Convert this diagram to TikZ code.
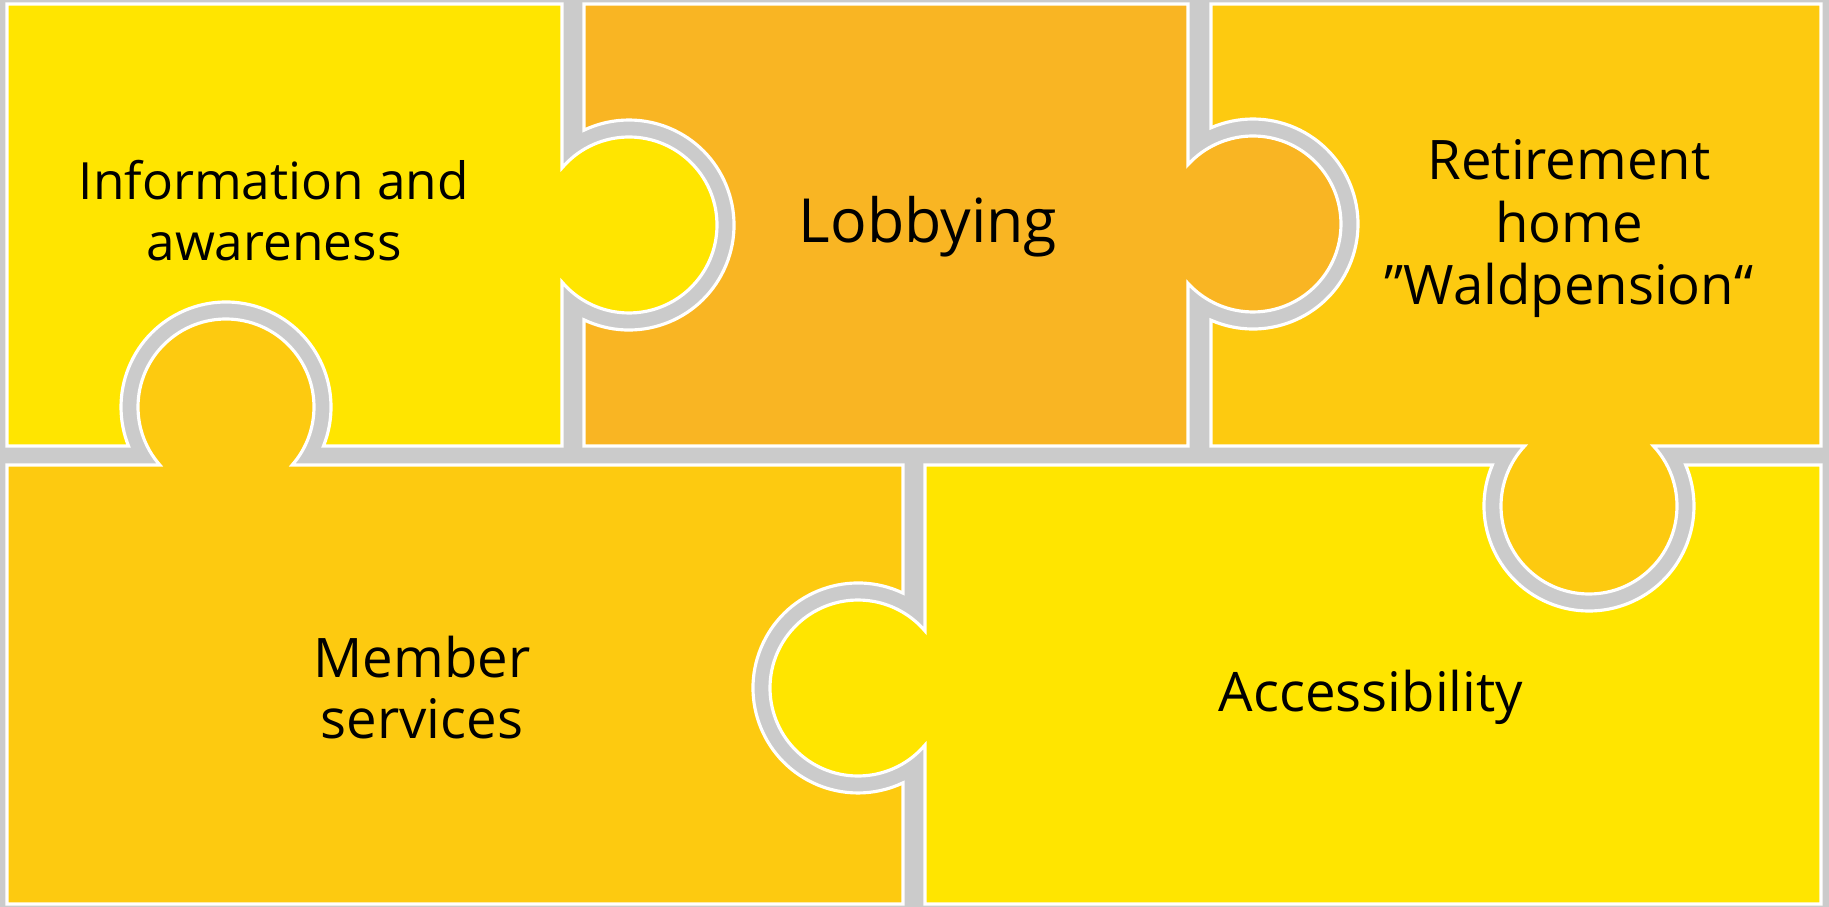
\documentclass[tikz,border=0pt]{standalone}
\usepackage{fontspec}
\setmainfont{Open Sans}
\definecolor{PuzYellow}{RGB}{255, 229, 0}
\definecolor{PuzOrange}{RGB}{249, 181, 35}
\definecolor{PuzGold}{RGB}{253, 202, 16}
\definecolor{GapGrey}{RGB}{203, 203, 203}
\usepackage{tikz}
\usetikzlibrary{positioning}

\begin{document}
\begin{tikzpicture}[x=0.01cm, y=-0.01cm,
    piece/.style={draw=white, line width=0.9pt, line join=miter},
    label/.style={font=\fontsize{15.5}{17.9}\selectfont, align=center, inner sep=0pt, anchor=base}]
                \useasboundingbox (0,0) rectangle (1829,907);
                \fill[GapGrey] (0,0) rectangle (1829,907);

                % Top row
                \draw[piece, fill=PuzYellow] (7,4) -- (562,4) -- (562,167.96) arc[start angle=220.41, end angle=499.59, radius=88] -- (562,446) -- (323.49,446) arc[start angle=21.8, end angle=-201.8, radius=105] -- (7,446) -- cycle;
                \draw[piece, fill=PuzOrange] (584,4) -- (1188,4) -- (1188,164.68) arc[start angle=222.39, end angle=497.61, radius=88] -- (1188,446) -- (584,446) -- (584,319.87) arc[start angle=115.38, end angle=-115.38, radius=105] -- cycle;
                \draw[piece, fill=PuzGold] (1211,4) -- (1821,4) -- (1821,446) -- (1653.37,446) arc[start angle=-42.99, end angle=222.99, radius=88] -- (1211,446) -- (1211,320.23) arc[start angle=113.58, end angle=-113.58, radius=105] -- cycle;

                % Bottom row
                \draw[piece, fill=PuzGold] (7,465) -- (159.82,465) arc[start angle=138.77, end angle=401.23, radius=88] -- (903,465) -- (903,593.13) arc[start angle=-64.62, end angle=-295.38, radius=105] -- (903,904) -- (7,904) -- cycle;
                \draw[piece, fill=PuzYellow] (925,465) -- (1492.34,465) arc[start angle=202.98, end angle=-22.98, radius=105] -- (1821,465) -- (1821,904) -- (925,904) -- (925,745.05) arc[start angle=40.41, end angle=319.59, radius=88] -- cycle;

                % Labels (anchored on the last baseline)
                \node[label, font=\fontsize{14.6}{17.6}\selectfont] (info) at (274,261) {Information and\\awareness};
                \node[label, font=\fontsize{17.3}{20}\selectfont] (lobby) at (928,243) {Lobbying};
                \node[label] (home) at (1569,305) {Retirement\\home\\”Waldpension“};
                \node[label, font=\fontsize{15.5}{17.6}\selectfont] (member) at (422,739) {Member\\services};
                \node[label] (access) at (1371,712) {Accessibility};
            \end{tikzpicture}
\end{document}
